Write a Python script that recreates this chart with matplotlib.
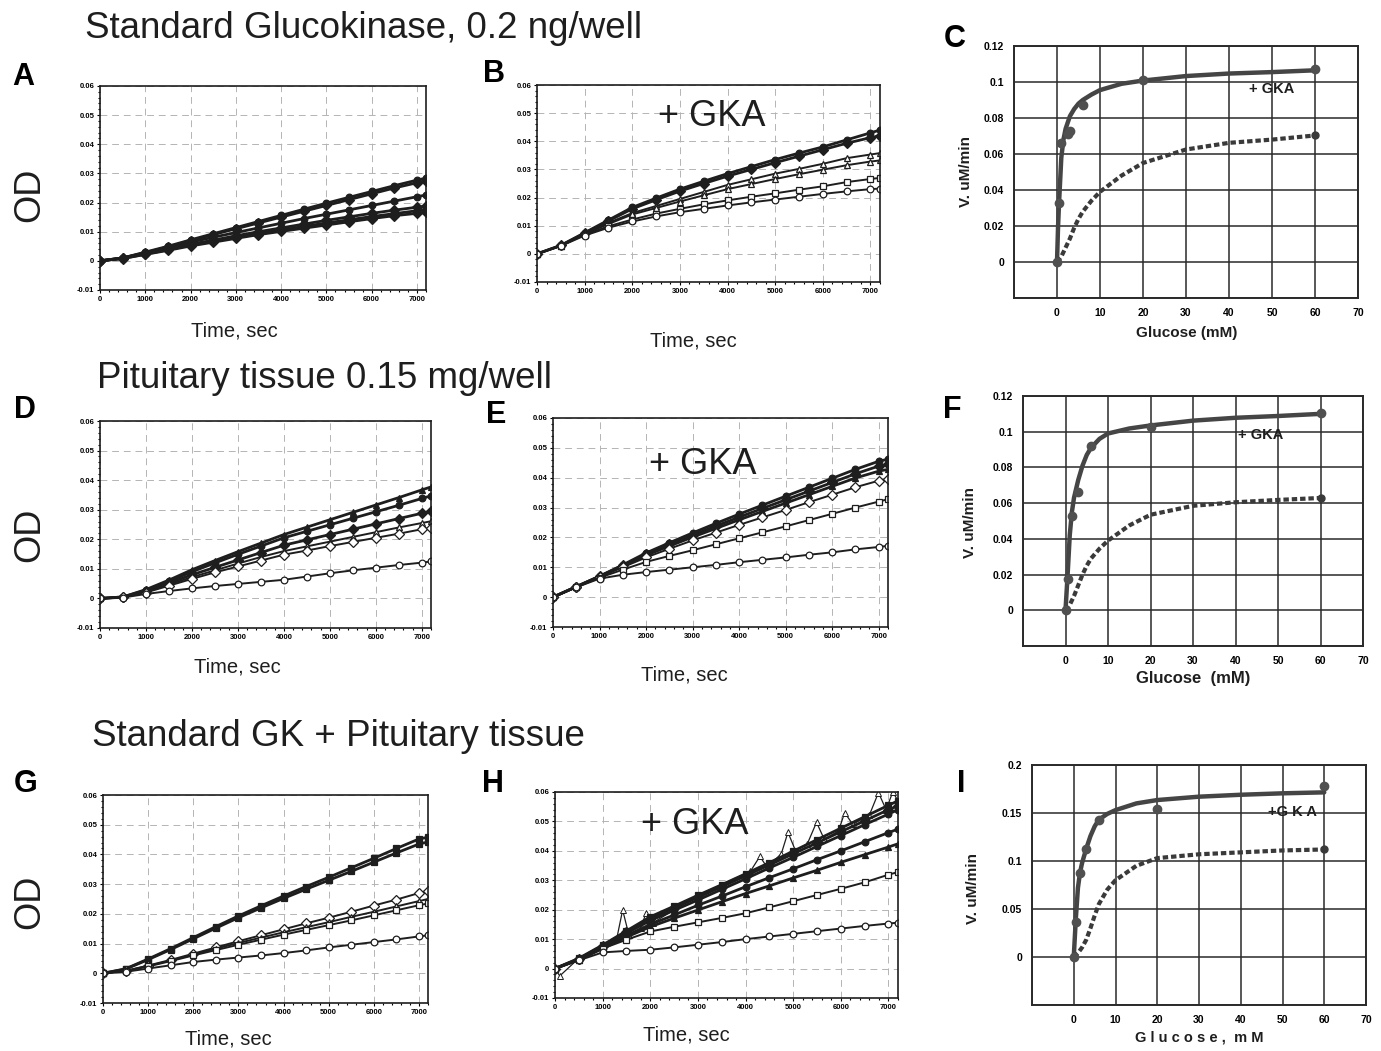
import numpy as np
import matplotlib.pyplot as plt
from matplotlib.ticker import MultipleLocator

plt.rcParams['font.family'] = ['Liberation Sans', 'DejaVu Sans']

W, H = 1381, 1051
INK = '#1e1e1e'

# time points (sec)
t = [0, 500, 1000, 1500, 2000, 2500, 3000, 3500, 4000, 4500, 5000, 5500, 6000, 6500, 7000, 7200]

# panel A - standard glucokinase
a1 = [0, 0.001, 0.003, 0.005, 0.0072, 0.0093, 0.0114, 0.0135, 0.0156, 0.0177, 0.0198, 0.0218, 0.0238, 0.0258, 0.0277, 0.0284]
a2 = [0, 0.001, 0.0028, 0.0048, 0.0069, 0.009, 0.011, 0.013, 0.015, 0.017, 0.019, 0.021, 0.023, 0.025, 0.0268, 0.0275]
a3 = [0, 0.001, 0.0027, 0.0045, 0.0064, 0.0081, 0.0097, 0.0113, 0.0129, 0.0145, 0.016, 0.0175, 0.019, 0.0205, 0.022, 0.0226]
a4 = [0, 0.0009, 0.0025, 0.004, 0.0057, 0.0071, 0.0086, 0.01, 0.0113, 0.0126, 0.0139, 0.0151, 0.0163, 0.0174, 0.0184, 0.0188]
a5 = [0, 0.0008, 0.0023, 0.0038, 0.0054, 0.0067, 0.0081, 0.0094, 0.0106, 0.0118, 0.013, 0.0141, 0.0152, 0.0162, 0.0172, 0.0176]
a6 = [0, 0.0008, 0.0022, 0.0036, 0.0051, 0.0064, 0.0077, 0.009, 0.0101, 0.0112, 0.0123, 0.0134, 0.0145, 0.0155, 0.0163, 0.0166]

# panel B - standard glucokinase + GKA
b1 = [0, 0.003, 0.0075, 0.012, 0.0165, 0.0198, 0.023, 0.0258, 0.0285, 0.031, 0.0335, 0.0358, 0.038, 0.0405, 0.043, 0.044]
b2 = [0, 0.003, 0.0073, 0.0117, 0.016, 0.0192, 0.0223, 0.025, 0.0276, 0.03, 0.0324, 0.0347, 0.037, 0.0393, 0.0413, 0.042]
b3 = [0, 0.003, 0.0072, 0.011, 0.0145, 0.017, 0.0195, 0.022, 0.0245, 0.0265, 0.0285, 0.0302, 0.032, 0.034, 0.0353, 0.0358]
b4 = [0, 0.0029, 0.007, 0.0106, 0.014, 0.0163, 0.0186, 0.0208, 0.023, 0.0248, 0.0266, 0.0283, 0.0299, 0.0315, 0.0328, 0.0332]
b5 = [0, 0.0028, 0.0068, 0.0098, 0.0122, 0.0143, 0.016, 0.0176, 0.019, 0.0203, 0.0215, 0.0228, 0.024, 0.0255, 0.0266, 0.027]
b6 = [0, 0.0028, 0.0065, 0.0093, 0.0115, 0.0133, 0.0148, 0.016, 0.0172, 0.0183, 0.0193, 0.0203, 0.0213, 0.0222, 0.023, 0.0232]

# panel D - pituitary tissue
d1 = [0, 0.0005, 0.003, 0.0062, 0.0097, 0.0128, 0.0158, 0.0187, 0.0216, 0.0241, 0.0266, 0.0291, 0.0316, 0.0341, 0.0367, 0.0377]
d2 = [0, 0.0005, 0.0028, 0.0058, 0.009, 0.012, 0.0149, 0.0177, 0.0205, 0.0227, 0.0249, 0.0271, 0.0293, 0.0315, 0.0338, 0.0347]
d3 = [0, 0.0004, 0.0025, 0.0052, 0.008, 0.0105, 0.013, 0.0155, 0.018, 0.0198, 0.0216, 0.0234, 0.0252, 0.027, 0.0288, 0.0295]
d4 = [0, 0.0004, 0.0022, 0.0047, 0.0072, 0.0095, 0.0118, 0.014, 0.016, 0.0176, 0.0192, 0.0208, 0.0224, 0.024, 0.0255, 0.0261]
d5 = [0, 0.0004, 0.002, 0.0043, 0.0066, 0.0088, 0.0108, 0.0128, 0.0148, 0.0162, 0.0177, 0.0191, 0.0205, 0.0219, 0.0234, 0.0239]
d6 = [0, 0.0003, 0.0015, 0.0025, 0.0034, 0.0042, 0.0049, 0.0056, 0.0063, 0.0074, 0.0085, 0.0095, 0.0104, 0.0113, 0.0121, 0.0125]

# panel E - pituitary tissue + GKA
e1 = [0, 0.0035, 0.007, 0.0108, 0.0148, 0.0182, 0.0215, 0.0247, 0.0278, 0.0308, 0.0338, 0.0368, 0.0398, 0.0428, 0.0455, 0.0462]
e2 = [0, 0.0035, 0.007, 0.0106, 0.0144, 0.0177, 0.0208, 0.0238, 0.0268, 0.0297, 0.0326, 0.0355, 0.0384, 0.0413, 0.0439, 0.0445]
e3 = [0, 0.0035, 0.0069, 0.0104, 0.014, 0.0171, 0.0201, 0.023, 0.0259, 0.0287, 0.0315, 0.0343, 0.0371, 0.0399, 0.0422, 0.0428]
e4 = [0, 0.0034, 0.0068, 0.01, 0.0133, 0.0162, 0.019, 0.0216, 0.0242, 0.0267, 0.0292, 0.0318, 0.0343, 0.0368, 0.039, 0.0395]
e5 = [0, 0.0033, 0.0065, 0.0092, 0.0118, 0.0138, 0.0157, 0.0177, 0.0197, 0.0217, 0.0237, 0.0258, 0.0279, 0.03, 0.032, 0.0328]
e6 = [0, 0.0033, 0.0062, 0.0075, 0.0084, 0.0092, 0.01, 0.0108, 0.0117, 0.0125, 0.0133, 0.0142, 0.015, 0.016, 0.0168, 0.0172]

# panel G - standard GK + pituitary tissue
g1 = [0, 0.0015, 0.0048, 0.0083, 0.012, 0.0157, 0.0193, 0.0227, 0.026, 0.0292, 0.0323, 0.0355, 0.0387, 0.042, 0.0452, 0.0458]
g2 = [0, 0.0014, 0.0046, 0.008, 0.0116, 0.0152, 0.0187, 0.022, 0.0252, 0.0283, 0.0313, 0.0343, 0.0374, 0.0405, 0.0435, 0.0442]
g3 = [0, 0.0008, 0.0026, 0.0045, 0.0066, 0.0087, 0.0108, 0.0128, 0.0148, 0.0168, 0.0187, 0.0207, 0.0228, 0.0248, 0.027, 0.0278]
g4 = [0, 0.0008, 0.0025, 0.0043, 0.0063, 0.0083, 0.0102, 0.012, 0.0138, 0.0155, 0.0172, 0.019, 0.0207, 0.0225, 0.0243, 0.025]
g5 = [0, 0.0007, 0.0023, 0.0041, 0.006, 0.0078, 0.0096, 0.0113, 0.013, 0.0146, 0.0162, 0.0178, 0.0195, 0.0212, 0.0229, 0.0235]
g6 = [0, 0.0005, 0.0016, 0.0027, 0.0038, 0.0046, 0.0053, 0.006, 0.0068, 0.0077, 0.0087, 0.0096, 0.0105, 0.0114, 0.0124, 0.0128]

# panel H - standard GK + pituitary tissue + GKA
h1 = [0, 0.0035, 0.008, 0.0128, 0.0176, 0.0212, 0.0249, 0.0285, 0.0322, 0.036, 0.0399, 0.0438, 0.0477, 0.0516, 0.0555, 0.057]
h2 = [0, 0.0033, 0.0078, 0.0124, 0.017, 0.0206, 0.0242, 0.0278, 0.0315, 0.0352, 0.039, 0.0427, 0.0465, 0.0502, 0.054, 0.0553]
h3 = [0, 0.0032, 0.0076, 0.012, 0.0163, 0.0198, 0.0233, 0.0269, 0.0305, 0.0342, 0.0378, 0.0415, 0.0452, 0.0489, 0.0525, 0.054]
h4 = [0, 0.003, 0.007, 0.0112, 0.015, 0.0182, 0.0215, 0.0246, 0.0278, 0.0309, 0.0339, 0.037, 0.04, 0.0431, 0.0462, 0.0474]
h5 = [0, 0.003, 0.0068, 0.0107, 0.0142, 0.0171, 0.0199, 0.0227, 0.0255, 0.0281, 0.0308, 0.0334, 0.0361, 0.0387, 0.0413, 0.0424]
h6 = [0, 0.003, 0.0068, 0.0098, 0.0126, 0.0142, 0.0157, 0.0172, 0.0188, 0.0208, 0.0229, 0.025, 0.0271, 0.0293, 0.0319, 0.0328]
h7 = [0, 0.0028, 0.0055, 0.006, 0.0064, 0.0072, 0.0081, 0.009, 0.01, 0.0109, 0.0118, 0.0127, 0.0136, 0.0145, 0.0153, 0.0156]
# noisy well with spikes
hs_t = [0, 100, 500, 1000, 1300, 1420, 1550, 1800, 1910, 2050, 3000, 4100, 4300, 4450, 4750, 4890, 5050,
        5300, 5490, 5650, 5950, 6080, 6250, 6600, 6790, 6950, 7090, 7200]
hs_v = [0, -0.0025, 0.0035, 0.008, 0.0105, 0.0199, 0.0115, 0.0138, 0.0188, 0.0155, 0.0249, 0.033, 0.0381,
        0.0345, 0.039, 0.0463, 0.040, 0.0425, 0.0497, 0.044, 0.0467, 0.053, 0.049, 0.0522, 0.0598, 0.054, 0.06, 0.057]

# kinetics panels: fitted curve (solid, +GKA), measured points, dashed curve (no GKA)
c_fit_x = [0, 0.25, 0.5, 1, 1.5, 2, 3, 4, 5, 6, 8, 10, 15, 20, 30, 40, 50, 60]
c_fit_y = [0, 0.02, 0.034, 0.058, 0.068, 0.074, 0.081, 0.085, 0.088, 0.09, 0.093, 0.0955, 0.099, 0.1008, 0.1033, 0.1047, 0.1055, 0.1065]
c_pts_x = [0, 0.5, 1, 2.5, 3, 6, 20, 60]
c_pts_y = [0, 0.033, 0.066, 0.071, 0.073, 0.087, 0.101, 0.107]
c_dash_x = [0, 1, 2, 3, 4, 5, 6, 8, 10, 15, 20, 30, 40, 50, 60]
c_dash_y = [0, 0.003, 0.008, 0.013, 0.019, 0.024, 0.028, 0.034, 0.039, 0.048, 0.055, 0.0625, 0.0662, 0.068, 0.0703]

f_fit_x = [0, 0.25, 0.5, 1, 1.5, 2, 3, 4, 5, 6, 8, 10, 15, 20, 30, 40, 50, 60]
f_fit_y = [0, 0.01, 0.02, 0.042, 0.055, 0.063, 0.073, 0.081, 0.087, 0.091, 0.096, 0.099, 0.1018, 0.1035, 0.1062, 0.1078, 0.1088, 0.110]
f_pts_x = [0, 0.5, 1.5, 3, 6, 20, 60]
f_pts_y = [0, 0.0175, 0.053, 0.066, 0.092, 0.1025, 0.1105]
f_dash_x = [0, 1, 2, 3, 4, 5, 6, 8, 10, 15, 20, 30, 40, 50, 60]
f_dash_y = [0, 0.003, 0.008, 0.014, 0.02, 0.025, 0.029, 0.0345, 0.039, 0.0475, 0.0535, 0.0585, 0.0605, 0.0618, 0.0629]

i_fit_x = [0, 0.25, 0.5, 1, 1.5, 2, 3, 4, 5, 6, 8, 10, 15, 20, 30, 40, 50, 60]
i_fit_y = [0, 0.02, 0.04, 0.072, 0.088, 0.098, 0.113, 0.126, 0.136, 0.143, 0.149, 0.153, 0.16, 0.1635, 0.167, 0.169, 0.1705, 0.1715]
i_pts_x = [0, 0.5, 1.5, 3, 6, 20, 60]
i_pts_y = [0, 0.036, 0.087, 0.112, 0.143, 0.154, 0.178]
i_dash_x = [0, 1, 2, 3, 4, 5, 6, 8, 10, 15, 20, 30, 40, 50, 60]
i_dash_y = [0, 0.004, 0.01, 0.018, 0.03, 0.043, 0.055, 0.07, 0.08, 0.095, 0.103, 0.107, 0.109, 0.111, 0.112]

od_ticks = [-0.01, 0, 0.01, 0.02, 0.03, 0.04, 0.05, 0.06]
od_labels = ['-0.01', '0', '0.01', '0.02', '0.03', '0.04', '0.05', '0.06']
time_ticks = [0, 1000, 2000, 3000, 4000, 5000, 6000, 7000]
glc_ticks = [-10, 0, 10, 20, 30, 40, 50, 60, 70]
glc_labels = ['', '0', '10', '20', '30', '40', '50', '60', '70']

fig = plt.figure(figsize=(W / 100, H / 100), dpi=100)


def px_axes(left, top, right, bottom):
    return fig.add_axes([left / W, 1 - bottom / H, (right - left) / W, (bottom - top) / H])


def ftext(x, y, s, **kw):
    fig.text(x / W, 1 - y / H, s, **kw)


def time_panel(ax, series, styles):
    for y, (m, filled) in zip(series, styles):
        ax.plot(t, y, color=INK, lw=2.0 if filled else 1.4, marker=m, ms=4.8, mew=0.9,
                mec=INK, mfc=INK if filled else 'white')
    ax.set_xlim(0, 7200)
    ax.set_ylim(-0.01, 0.06)
    ax.set_xticks(time_ticks)
    ax.set_yticks(od_ticks)
    ax.set_yticklabels(od_labels)
    ax.xaxis.set_minor_locator(MultipleLocator(200))
    ax.yaxis.set_minor_locator(MultipleLocator(0.002))
    ax.tick_params(which='both', direction='out', labelsize=5.5, pad=1.5, width=0.8)
    ax.tick_params(which='major', length=2.5)
    ax.tick_params(which='minor', length=1.2)
    for lab in ax.get_xticklabels() + ax.get_yticklabels():
        lab.set_fontweight('bold')
    ax.grid(True, color='#b4b4b4', lw=0.7, ls=(0, (7, 5)))
    ax.set_axisbelow(True)
    for sp in ax.spines.values():
        sp.set_linewidth(1.2)
        sp.set_color(INK)


def kin_panel(ax, fx, fy, px, py, dx, dy, ymax, ystep, ylabels):
    ax.plot(dx, dy, color='#3a3a3a', lw=3.0, ls=(0, (1.3, 0.7)), zorder=3)
    ax.plot(dx[-1:], dy[-1:], 'o', color='#3a3a3a', ms=5, zorder=4)
    ax.plot(fx, fy, color='#454545', lw=3.2, solid_capstyle='round', zorder=3)
    ax.plot(px, py, 'o', color='#505050', ms=6, zorder=4)
    ax.set_xlim(-10, 70)
    ax.set_ylim(-ystep, ymax)
    ax.set_xticks(glc_ticks)
    ax.set_xticklabels(glc_labels)
    yt = [round(-ystep + k * ystep, 3) for k in range(len(ylabels))]
    ax.set_yticks(yt)
    ax.set_yticklabels(ylabels)
    ax.tick_params(length=0, labelsize=7.5, pad=7)
    for lab in ax.get_xticklabels() + ax.get_yticklabels():
        lab.set_fontweight('bold')
    ax.grid(True, color='#2a2a2a', lw=1.1)
    ax.set_axisbelow(True)
    for sp in ax.spines.values():
        sp.set_linewidth(1.4)
        sp.set_color('#2a2a2a')


filled = [('o', True), ('D', True), ('o', True), ('D', True), ('o', True), ('D', True)]

axA = px_axes(100, 86, 426, 290)
time_panel(axA, [a1, a2, a3, a4, a5, a6], filled)

axB = px_axes(537, 85, 880, 282)
time_panel(axB, [b1, b2, b3, b4, b5, b6],
           [('o', True), ('D', True), ('^', False), ('^', False), ('s', False), ('o', False)])

axD = px_axes(100, 421, 431, 628)
time_panel(axD, [d1, d2, d3, d4, d5, d6],
           [('^', True), ('o', True), ('D', True), ('^', False), ('D', False), ('o', False)])

axE = px_axes(553, 418, 888, 627)
time_panel(axE, [e1, e2, e3, e4, e5, e6],
           [('o', True), ('D', True), ('^', True), ('D', False), ('s', False), ('o', False)])

axG = px_axes(103, 795, 428, 1003)
time_panel(axG, [g1, g2, g3, g4, g5, g6],
           [('s', True), ('s', True), ('D', False), ('^', False), ('s', False), ('o', False)])

axH = px_axes(555, 792, 898, 998)
axH.plot(hs_t, hs_v, color=INK, lw=0.9, marker='^', ms=4, mfc='white', mec=INK, mew=0.7)
time_panel(axH, [h1, h2, h3, h4, h5, h6, h7],
           [('s', True), ('D', True), ('o', True), ('o', True), ('^', True), ('s', False), ('o', False)])

axC = px_axes(1014, 46, 1358, 298)
kin_panel(axC, c_fit_x, c_fit_y, c_pts_x, c_pts_y, c_dash_x, c_dash_y, 0.12, 0.02,
          ['', '0', '0.02', '0.04', '0.06', '0.08', '0.1', '0.12'])
axC.text(50, 0.096, '+ GKA', ha='center', va='center', fontsize=10.5, fontweight='bold', color=INK)

axF = px_axes(1023, 396, 1363, 646)
kin_panel(axF, f_fit_x, f_fit_y, f_pts_x, f_pts_y, f_dash_x, f_dash_y, 0.12, 0.02,
          ['', '0', '0.02', '0.04', '0.06', '0.08', '0.1', '0.12'])
axF.text(46, 0.098, '+ GKA', ha='center', va='center', fontsize=10.5, fontweight='bold', color=INK)

axI = px_axes(1032, 765, 1366, 1005)
kin_panel(axI, i_fit_x, i_fit_y, i_pts_x, i_pts_y, i_dash_x, i_dash_y, 0.2, 0.05,
          ['', '0', '0.05', '0.1', '0.15', '0.2'])
axI.text(52.5, 0.151, '+G K A', ha='center', va='center', fontsize=10.5, fontweight='bold', color=INK)

# row titles
ftext(85, 38, 'Standard Glucokinase, 0.2 ng/well', fontsize=26.5, va='baseline', color=INK)
ftext(97, 388, 'Pituitary tissue 0.15 mg/well', fontsize=26.5, va='baseline', color=INK)
ftext(92, 746, 'Standard GK + Pituitary tissue', fontsize=26.5, va='baseline', color=INK)

# panel letters
for letter, x, y in [('A', 12, 85), ('B', 483, 82), ('C', 944, 47), ('D', 14, 418), ('E', 486, 423),
                     ('F', 943, 418), ('G', 14, 792), ('H', 482, 792), ('I', 957, 792)]:
    ftext(x, y, letter, fontsize=22, fontweight='bold', va='baseline', color='black')

# OD labels
for y in [195, 535, 902]:
    ftext(30, y, 'OD', fontsize=26, rotation=90, ha='center', va='center', color=INK)

# time axis labels
for x, y in [(234, 331), (693, 341), (237, 667), (684, 675), (228, 1039), (686, 1035)]:
    ftext(x, y, 'Time, sec', fontsize=14.5, ha='center', va='center', color=INK)

# + GKA on progress curves
for x, y in [(712, 117), (703, 465), (695, 825)]:
    ftext(x, y, '+ GKA', fontsize=26, ha='center', va='center', color=INK)

# kinetics axis labels
for x, y in [(966, 171), (970, 522), (973, 889)]:
    ftext(x, y, 'V. uM/min', fontsize=11, fontweight='bold', rotation=90, ha='center', va='center', color=INK)
ftext(1187, 333, 'Glucose (mM)', fontsize=11, fontweight='bold', ha='center', va='center', color=INK)
ftext(1193, 678, 'Glucose  (mM)', fontsize=12, fontweight='bold', ha='center', va='center', color=INK)
ftext(1199, 1037, 'G l u c o s e ,  m M', fontsize=10.5, fontweight='bold', ha='center', va='center', color=INK)

fig.savefig('out.png', dpi=100, facecolor='white')
